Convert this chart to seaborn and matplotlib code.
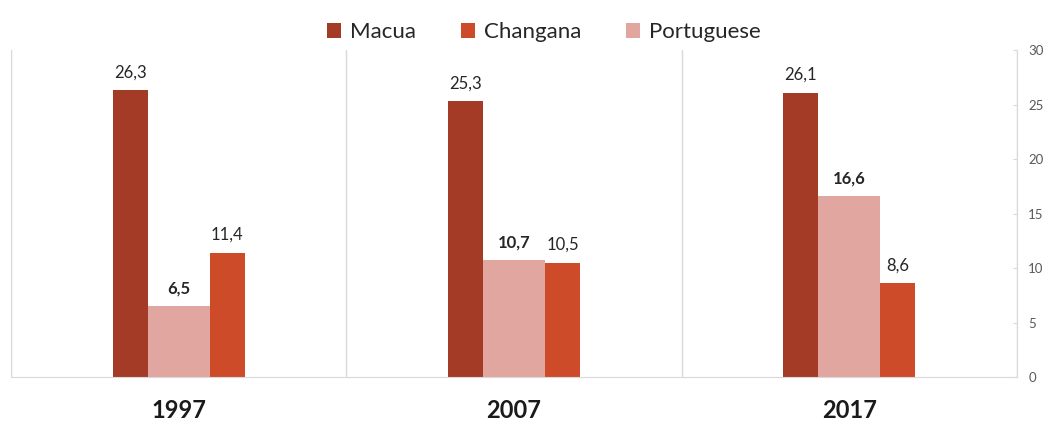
import pandas as pd
import numpy as np
import matplotlib.pyplot as plt
import seaborn as sns
from matplotlib.patches import Patch

# Data
years = ['1997', '2007', '2017']
macua = [26.3, 25.3, 26.1]
portuguese = [6.5, 10.7, 16.6]
changana = [11.4, 10.5, 8.6]

draw_order = ['Macua', 'Portuguese', 'Changana']
legend_order = ['Macua', 'Changana', 'Portuguese']
colors = {'Macua': '#A43B26', 'Changana': '#CD4B28', 'Portuguese': '#E0A69F'}

df = pd.DataFrame({
    'year': years * 3,
    'language': ['Macua'] * 3 + ['Portuguese'] * 3 + ['Changana'] * 3,
    'share': macua + portuguese + changana,
})

sns.set_style('white')
plt.rcParams['font.family'] = ['Lato', 'DejaVu Sans']

fig, ax = plt.subplots(figsize=(10.5, 4.21), dpi=100)
fig.subplots_adjust(left=0.0105, right=0.9686, bottom=0.1045, top=0.881)

sns.barplot(data=df, x='year', y='share', hue='language', hue_order=draw_order,
            palette=colors, saturation=1, width=0.4, errorbar=None,
            legend=False, ax=ax)

# Excel-like layout: narrow outer bars, wider middle bar
widths = {'Macua': 0.104, 'Portuguese': 0.185, 'Changana': 0.104}
half_mid = widths['Portuguese'] / 2
for name, cont in zip(draw_order, ax.containers):
    for j, bar in enumerate(cont):
        if name == 'Macua':
            left = j - half_mid - widths['Macua']
        elif name == 'Portuguese':
            left = j - half_mid
        else:
            left = j + half_mid
        bar.set_x(left)
        bar.set_width(widths[name])
        bar.set_edgecolor('none')
    labels = [f'{v:.1f}'.replace('.', ',') for v in cont.datavalues]
    ax.bar_label(cont, labels=labels, padding=7, fontsize=12, color='#262626',
                 fontweight='bold' if name == 'Portuguese' else 'normal')

ax.set_xlim(-0.5, 2.5)
ax.set_ylim(0, 30)
ax.set_yticks(np.arange(0, 31, 5))
ax.yaxis.tick_right()
ax.tick_params(axis='y', labelsize=9.5, labelcolor='#595959', length=3,
               direction='in', color='#D9D9D9', pad=8, right=True)
ax.tick_params(axis='x', length=0, pad=16, labelsize=17)
for lbl in ax.get_xticklabels():
    lbl.set_fontweight('bold')
    lbl.set_color('#1A1A1A')
ax.set_xlabel('')
ax.set_ylabel('')

ax.set_xticks([-0.5, 0.5, 1.5, 2.5], minor=True)
ax.tick_params(axis='x', which='minor', length=0)
ax.grid(which='minor', axis='x', color='#D9D9D9', linewidth=1)
ax.set_axisbelow(True)

for side in ['left', 'right', 'bottom']:
    ax.spines[side].set_color('#D9D9D9')
ax.spines['top'].set_visible(False)

handles = [Patch(facecolor=colors[n], edgecolor='none', label=n) for n in legend_order]
fig.legend(handles=handles, loc='upper center', bbox_to_anchor=(0.518, 0.995),
           ncol=3, frameon=False, fontsize=16, handlelength=0.65, handleheight=0.65,
           handletextpad=0.4, columnspacing=2.0)

fig.savefig('out.png', dpi=100)
